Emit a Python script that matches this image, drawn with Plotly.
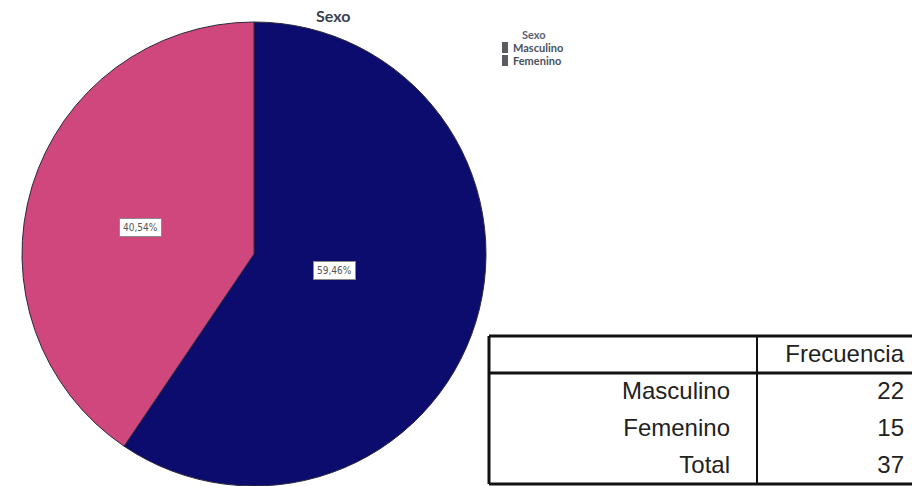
import math
import plotly.graph_objects as go

# ---- data ----
categories = ["Masculino", "Femenino"]
frequencies = [22, 15]
table_header = ["", "Frecuencia"]
table_rows = ["Masculino", "Femenino", "Total"]
table_values = [22, 15, 37]
chart_title = "Sexo"
legend_title = "Sexo"

# ---- styles ----
W, H = 912, 486
slice_colors = ["#0c0b6e", "#cf477c"]

def px(x):
    return x / W

def py(y):
    return 1 - y / H

# pie placement (pixels)
cx, R = 254, 232
dom_x = [px(cx - R), px(cx + R)]
dom_y = [0, (2 * R) / H]
cy = H - R  # centre from top

fig = go.Figure()
fig.add_trace(go.Pie(
    labels=categories,
    values=frequencies,
    sort=False,
    direction="clockwise",
    rotation=0,
    marker=dict(colors=slice_colors, line=dict(color="#2a2a3a", width=1)),
    textinfo="none",
    hoverinfo="label+value+percent",
    showlegend=False,
    domain=dict(x=dom_x, y=dom_y),
))


def sector_label_pos(a0, a1):
    """Label anchor: blend of mid-angle point (0.5R) and the sector's bounding-box centre.
    Angles in degrees clockwise from 12 o'clock; returns unit offsets (x right, y down)."""
    pts = [(0.0, 0.0)]
    for a in [a0, a1] + [k * 90 for k in range(0, 5) if a0 < k * 90 < a1]:
        pts.append((math.sin(math.radians(a)), -math.cos(math.radians(a))))
    xs, ys = zip(*pts)
    bx, by = (min(xs) + max(xs)) / 2, (min(ys) + max(ys)) / 2
    m = math.radians((a0 + a1) / 2)
    mx, my = 0.5 * math.sin(m), -0.5 * math.cos(m)
    return (bx + mx) / 2, (by + my) / 2


# percentage labels
total = sum(frequencies)
start = 0.0
annotations = []
for v in frequencies:
    frac = v / total
    a0, a1 = start, start + frac * 360.0
    start = a1
    ox, oy = sector_label_pos(a0, a1)
    lx, ly = cx + ox * R, cy + oy * R
    txt = f"{frac*100:.2f}%".replace(".", ",")
    annotations.append(dict(
        x=px(lx), y=py(ly), xref="paper", yref="paper",
        text=txt, showarrow=False,
        font=dict(family="DejaVu Sans Condensed", size=10, color="#555555"),
        bgcolor="white", bordercolor="#8a8a8a", borderwidth=1, borderpad=3,
        xanchor="center", yanchor="middle",
    ))

# title
annotations.append(dict(
    x=px(333), y=py(15), xref="paper", yref="paper", text=f"<b>{chart_title}</b>",
    showarrow=False, font=dict(family="Lato", size=16, color="#3a4250"),
    xanchor="center", yanchor="middle",
))

# custom legend (grey swatches as in the reference)
annotations.append(dict(
    x=px(534), y=py(35), xref="paper", yref="paper", text=f"<b>{legend_title}</b>",
    showarrow=False, font=dict(family="Lato", size=11, color="#5a6170"),
    xanchor="center", yanchor="middle",
))
shapes = []
for i, name in enumerate(categories):
    yc = 47.5 + i * 13
    shapes.append(dict(type="rect", xref="paper", yref="paper",
                       x0=px(502), x1=px(508), y0=py(yc - 5.5), y1=py(yc + 5.5),
                       fillcolor="#5b5b60", line=dict(width=0)))
    annotations.append(dict(
        x=px(511), y=py(yc), xref="paper", yref="paper", text=f"<b>{name}</b>",
        showarrow=False, font=dict(family="Lato", size=11, color="#4a505c"),
        xanchor="left", yanchor="middle",
    ))

# ---- frequency table ----
t_left, t_top, t_bot, t_div = 489, 336, 484, 757
row_h = 37
fig.add_trace(go.Table(
    domain=dict(x=[px(t_left), 1.0], y=[0, py(t_top)]),
    columnwidth=[738 - t_left, W - 738],
    header=dict(values=table_header, align=["right", "right"], height=row_h,
                font=dict(family="Liberation Sans", size=24, color="#222222"),
                fill=dict(color="white"), line=dict(color="white", width=0)),
    cells=dict(values=[table_rows, table_values], align=["right", "right"], height=row_h,
               font=dict(family="Liberation Sans", size=24, color="#222222"),
               fill=dict(color="white"), line=dict(color="white", width=0)),
))

bw = 3
line_col = "#111111"
# outer border (right side runs off the image)
shapes.append(dict(type="line", xref="paper", yref="paper", x0=px(t_left), x1=1.01,
                   y0=py(t_top), y1=py(t_top), line=dict(color=line_col, width=bw)))
shapes.append(dict(type="line", xref="paper", yref="paper", x0=px(t_left), x1=1.01,
                   y0=py(t_bot), y1=py(t_bot), line=dict(color=line_col, width=bw)))
shapes.append(dict(type="line", xref="paper", yref="paper", x0=px(t_left), x1=px(t_left),
                   y0=py(t_top), y1=py(t_bot), line=dict(color=line_col, width=bw)))
# header separator
shapes.append(dict(type="line", xref="paper", yref="paper", x0=px(t_left), x1=1.01,
                   y0=py(t_top + row_h), y1=py(t_top + row_h), line=dict(color=line_col, width=bw)))
# column divider
shapes.append(dict(type="line", xref="paper", yref="paper", x0=px(t_div), x1=px(t_div),
                   y0=py(t_top), y1=py(t_bot), line=dict(color=line_col, width=2)))

fig.update_layout(
    width=W, height=H,
    margin=dict(l=0, r=0, t=0, b=0),
    paper_bgcolor="white", plot_bgcolor="white",
    annotations=annotations, shapes=shapes,
    showlegend=False,
)

fig.write_html("out.html", config={"displayModeBar": False},
               post_script="document.body.style.margin='0';document.body.style.overflow='hidden';")
